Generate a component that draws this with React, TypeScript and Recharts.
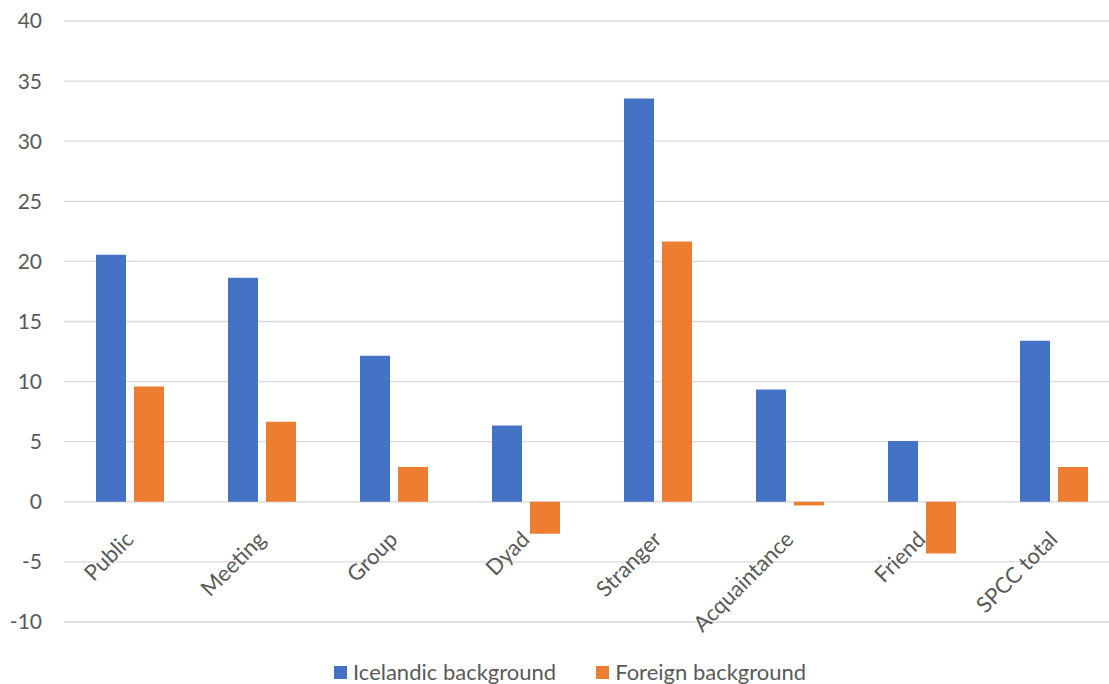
import { BarChart, Bar, XAxis, YAxis, CartesianGrid, Legend } from 'recharts'

// Kategoríur og gildi lesin af myndinni
const CATEGORIES = ['Public', 'Meeting', 'Group', 'Dyad', 'Stranger', 'Acquaintance', 'Friend', 'SPCC total']
const ICELANDIC = [20.55, 18.65, 12.15, 6.35, 33.55, 9.35, 5.05, 13.4]
const FOREIGN = [9.6, 6.65, 2.9, -2.65, 21.65, -0.3, -4.3, 2.9]
const Y_TICKS = [-10, -5, 0, 5, 10, 15, 20, 25, 30, 35, 40]

const SERIES = [
  { key: 'icelandic', name: 'Icelandic background', color: '#4472C4' },
  { key: 'foreign', name: 'Foreign background', color: '#ED7D31' },
]

const FONT = 'Lato, "Open Sans", sans-serif'
const TEXT = '#595959'

// plot area: top 21, height 601, domain [-10, 40] -> zero line position
const PLOT_TOP = 21
const PLOT_H = 601
const ZERO_Y = PLOT_TOP + (PLOT_H * 40) / 50
const LEGEND_H = 30

const data = CATEGORIES.map((name, i) => ({
  name,
  icelandic: ICELANDIC[i],
  foreign: FOREIGN[i],
}))

/** Flokkaheiti hallandi undir núll-línunni, eins og í Excel */
function CategoryTick({ x, payload }: { x?: number; payload?: { value: string } }) {
  const ax = (x ?? 0) - 1
  const ay = ZERO_Y + 33
  return (
    <text
      x={ax}
      y={ay}
      transform={`rotate(-45 ${ax} ${ay})`}
      textAnchor="end"
      dominantBaseline="central"
      fill={TEXT}
      fontSize={22}
      fontFamily={FONT}
    >
      {payload?.value}
    </text>
  )
}

function LegendContent() {
  return (
    <div
      style={{
        display: 'flex',
        alignItems: 'center',
        height: LEGEND_H,
        lineHeight: 1,
        fontFamily: FONT,
        fontSize: 22,
        color: TEXT,
      }}
    >
      {SERIES.map((s, i) => (
        <div key={s.key} style={{ display: 'flex', alignItems: 'center', marginRight: i === 0 ? 40 : 0 }}>
          <span style={{ width: 13, height: 13, background: s.color, display: 'inline-block', marginRight: 6 }} />
          <span>{s.name}</span>
        </div>
      ))}
    </div>
  )
}

export default function App() {
  return (
    <div style={{ position: 'absolute', left: 0, top: 0, width: 1109, height: 684, overflow: 'hidden', background: '#fff' }}>
      <BarChart
        width={1125}
        height={684}
        data={data}
        margin={{ top: PLOT_TOP, right: 5, left: 0, bottom: 0 }}
        barGap={8}
        barSize={30}
      >
        <CartesianGrid vertical={false} stroke="#D9D9D9" strokeWidth={1.3} />
        <XAxis
          dataKey="name"
          axisLine={false}
          tickLine={false}
          tick={<CategoryTick />}
          interval={0}
          height={684 - PLOT_TOP - PLOT_H - LEGEND_H}
        />
        <YAxis
          domain={[-10, 40]}
          ticks={Y_TICKS}
          axisLine={false}
          tickLine={false}
          width={64}
          tickMargin={16}
          tick={{ fill: TEXT, fontSize: 21, fontFamily: FONT }}
        />
        <Legend
          verticalAlign="bottom"
          content={<LegendContent />}
          wrapperStyle={{ left: 334, bottom: -3, top: 'auto', width: 'auto', height: LEGEND_H }}
        />
        {SERIES.map((s) => (
          <Bar key={s.key} dataKey={s.key} name={s.name} fill={s.color} isAnimationActive={false} />
        ))}
      </BarChart>
    </div>
  )
}
